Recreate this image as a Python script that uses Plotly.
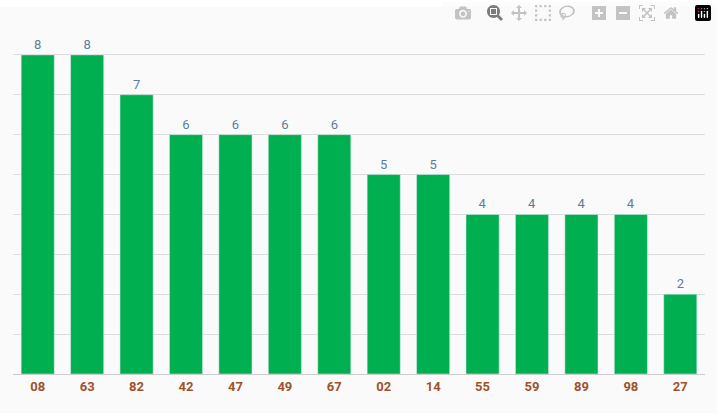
import plotly.graph_objects as go

categories = ["08","63","82","42","47","49","67","02","14","55","59","89","98","27"]
values = [8,8,7,6,6,6,6,5,5,4,4,4,4,2]

fig = go.Figure(go.Bar(
    x=categories, y=values, marker_color="#00af50",
    text=values, textposition="outside", cliponaxis=False,
    textfont=dict(family="Roboto", size=13, color="#5b7f9a"),
))
fig.update_layout(
    width=717, height=420, margin=dict(l=13, r=12, t=15, b=46),
    paper_bgcolor="#fafafa", plot_bgcolor="#fafafa", bargap=0.33,
    showlegend=False,
    xaxis=dict(type="category", showgrid=False, ticks="", showline=True, linecolor="#cccccc",
               tickfont=dict(family="Roboto", size=13, color="#a0522d", weight="bold")),
    yaxis=dict(range=[0,9], dtick=1, showticklabels=False, gridcolor="#dddddd", zeroline=False),
    shapes=[
        dict(type="rect", xref="paper", yref="paper", x0=-0.05, x1=1.05, y0=1.0+ (15-7)/359, y1=1.2, fillcolor="white", line_width=0, layer="below"),
        dict(type="rect", xref="paper", yref="paper", x0=-0.05, x1=1.05, y0=-(413-374)/359, y1=-0.3, fillcolor="white", line_width=0, layer="below"),
    ],
)
fig.write_html("out.html", post_script="document.body.style.margin='0';document.body.style.overflow='hidden';")
